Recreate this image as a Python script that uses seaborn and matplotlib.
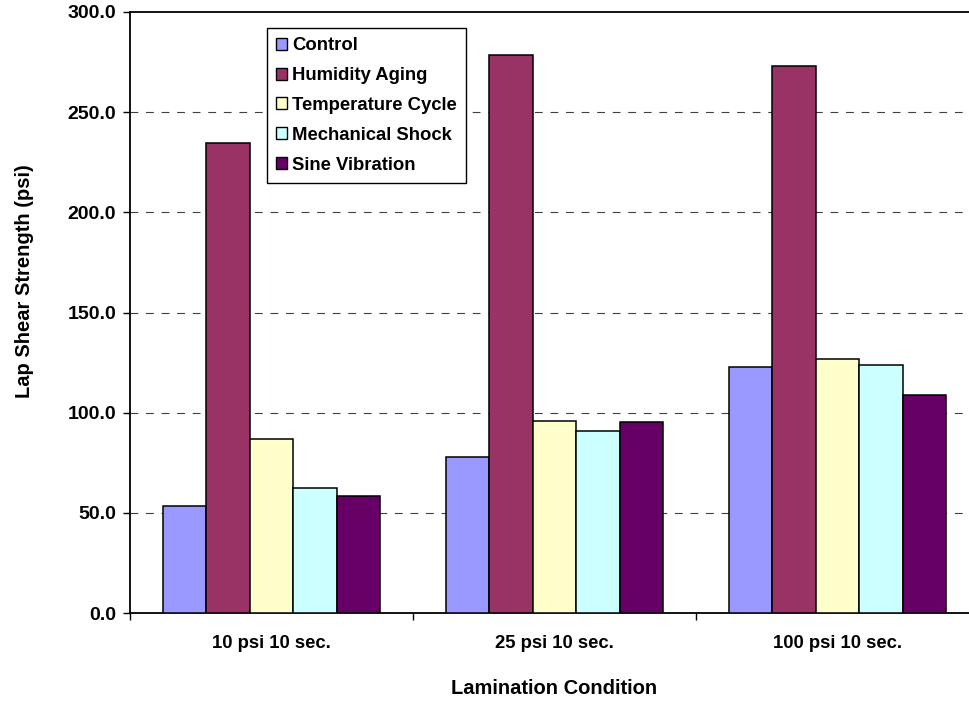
import pandas as pd
import seaborn as sns
import matplotlib.pyplot as plt

# Values
conditions = ["10 psi 10 sec.", "25 psi 10 sec.", "100 psi 10 sec."]
tests = ["Control", "Humidity Aging", "Temperature Cycle", "Mechanical Shock", "Sine Vibration"]
control = [53.5, 78.0, 122.8]
humidity_aging = [234.5, 278.5, 273.0]
temperature_cycle = [87.0, 96.0, 126.8]
mechanical_shock = [62.5, 91.0, 123.8]
sine_vibration = [58.5, 95.5, 108.8]
colors = ["#9999FF", "#993366", "#FFFFCC", "#CCFFFF", "#660066"]

series = [control, humidity_aging, temperature_cycle, mechanical_shock, sine_vibration]
rows = []
for test, vals in zip(tests, series):
    for cond, v in zip(conditions, vals):
        rows.append({"Condition": cond, "Test": test, "Strength": v})
df = pd.DataFrame(rows)

sns.set_style("white")
plt.rcParams["font.family"] = ["Liberation Sans", "DejaVu Sans"]
plt.rcParams["font.weight"] = "bold"
plt.rcParams["text.color"] = "black"
plt.rcParams["axes.labelcolor"] = "black"
plt.rcParams["xtick.color"] = "black"
plt.rcParams["ytick.color"] = "black"

fig = plt.figure(figsize=(9.69, 7.02), dpi=100)
ax = fig.add_axes([130 / 969, 89 / 702, 849 / 969, 601 / 702])

sns.barplot(data=df, x="Condition", y="Strength", hue="Test", hue_order=tests,
            palette=colors, saturation=1, width=0.77, edgecolor="black",
            linewidth=1.1, ax=ax, zorder=3)

# Axis limits and ticks
ax.set_ylim(0, 300)
ax.set_xlim(-0.5, 2.5)
ax.set_yticks(range(0, 301, 50))
ax.set_yticklabels([f"{v:.1f}" for v in range(0, 301, 50)], fontsize=14, fontweight="bold")
ax.tick_params(axis="y", direction="out", length=5, width=1, pad=5, left=True, colors="black")
ax.set_xticks([0, 1, 2])
ax.set_xticklabels(conditions, fontsize=13.3, fontweight="bold")
ax.tick_params(axis="x", which="major", length=0, pad=16, colors="black")
ax.set_xticks([-0.5, 0.5, 1.5, 2.5], minor=True)
ax.tick_params(axis="x", which="minor", direction="out", length=5, width=1, bottom=True)

# Dashed gridlines
for y in range(50, 300, 50):
    ax.axhline(y, color="#404040", linestyle=(0, (7, 7)), linewidth=0.8, zorder=1)

for side in ["left", "bottom", "top"]:
    ax.spines[side].set_visible(True)
    ax.spines[side].set_color("black")
    ax.spines[side].set_linewidth(1.3)
ax.spines["right"].set_visible(False)

ax.set_xlabel("Lamination Condition", fontsize=14.5, fontweight="bold", color="black")
ax.set_ylabel("Lap Shear Strength (psi)", fontsize=14.5, fontweight="bold", color="black")
ax.xaxis.set_label_coords(0.5, -0.11)
ax.yaxis.set_label_coords(-0.113, 0.553)

leg = ax.legend(loc="upper left", bbox_to_anchor=(0.161, 0.973), borderaxespad=0,
                fancybox=False, frameon=True, edgecolor="black", framealpha=1,
                handlelength=0.62, handleheight=0.62, handletextpad=0.27,
                labelspacing=0.7, borderpad=0.48, prop={"weight": "bold", "size": 13.3})
leg.get_frame().set_linewidth(1)
for h in leg.legend_handles:
    h.set_edgecolor("black")
    h.set_linewidth(1)
for t in leg.get_texts():
    t.set_color("black")

fig.savefig("out.png", dpi=100)
